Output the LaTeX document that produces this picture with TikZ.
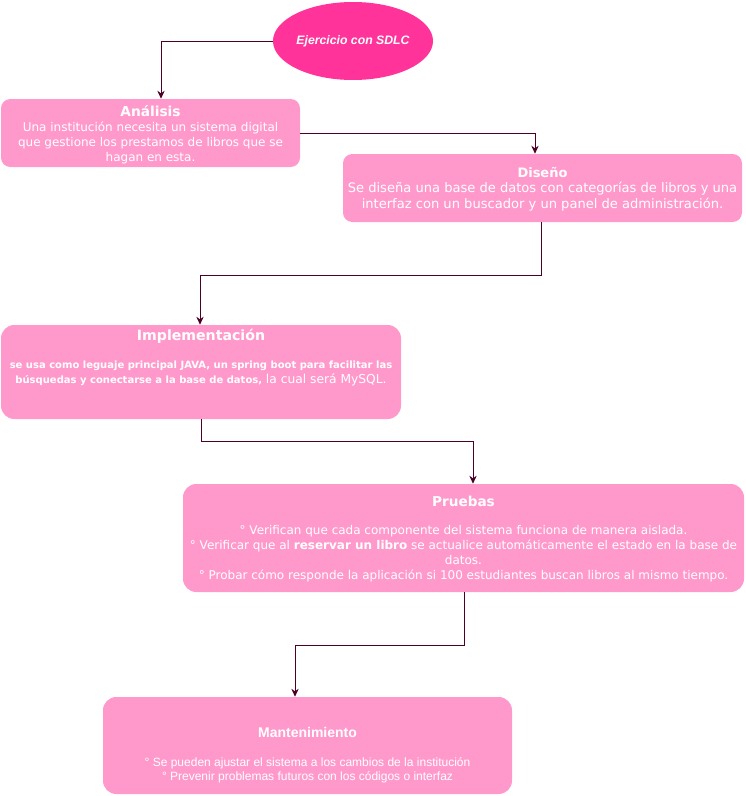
\documentclass[tikz,border=0pt]{standalone}
\usepackage{fontspec}
\setmainfont{DejaVu Sans}
\newfontfamily\arialfont{Liberation Sans}
\usetikzlibrary{arrows.meta,calc,shapes.geometric}
\definecolor{boxpink}{HTML}{FF99CC}
\definecolor{hotpink}{HTML}{FF3399}
\definecolor{linkcol}{HTML}{4D0026}
\tikzset{
  x=0.75pt, y=-0.75pt,
  stagebox/.style={fill=boxpink, draw=none, inner sep=0pt},
  stagetext/.style={text=white, align=center, inner sep=0pt, font=\fontsize{9}{11.25}\selectfont},
  link/.style={draw=linkcol, line width=0.75pt, -{Stealth[length=6pt,width=5.5pt]}},
}
\begin{document}
\begin{tikzpicture}
\useasboundingbox (0,0) rectangle (746,796);

% start ellipse
\node[ellipse, fill=hotpink, minimum width=150*0.75pt, minimum height=78*0.75pt, inner sep=0pt,
      text=white, font=\arialfont\bfseries\itshape\fontsize{9.2}{11}\selectfont] (start) at (353,41) {Ejercicio con SDLC};

% stage boxes
\node[stagebox, rounded corners=7pt, minimum width=299*0.75pt, minimum height=68*0.75pt] (ana) at (150.5,133) {};
\node[stagebox, rounded corners=7pt, minimum width=399*0.75pt, minimum height=68*0.75pt] (dis) at (542.5,188) {};
\node[stagebox, rounded corners=10pt, minimum width=400*0.75pt, minimum height=94*0.75pt] (imp) at (201,372) {};
\node[stagebox, rounded corners=10pt, minimum width=561*0.75pt, minimum height=108*0.75pt] (pru) at (463.5,538) {};
\node[stagebox, rounded corners=10pt, minimum width=409*0.75pt, minimum height=97*0.75pt] (man) at (307.5,745.5) {};

% stage texts
\node[stagetext] (anat) at (150.5,135) {{\fontsize{10.3}{11.25}\selectfont\bfseries Análisis}\\
Una institución necesita un sistema digital\\
que gestione los prestamos de libros que se\\
hagan en esta.};

\node[stagetext, font=\fontsize{9.8}{11.75}\selectfont] (dist) at (542.5,189) {{\fontsize{9.75}{11.75}\selectfont\bfseries Diseño}\\
Se diseña una base de datos con categorías de libros y una\\
interfaz con un buscador y un panel de administración.};

\node[stagetext, anchor=north] (impt) at (201,329) {{\fontsize{10.6}{14}\selectfont\bfseries Implementación}\\[10pt]
{\fontsize{7.5}{10.5}\selectfont\bfseries se usa como leguaje principal JAVA, un spring boot para facilitar las}\\
{\fontsize{7.5}{10.5}\selectfont\bfseries búsquedas y conectarse a la base de datos,} {\fontsize{9.2}{10.5}\selectfont la cual será MySQL.}};

\node[stagetext] (prut) at (463.5,539) {{\fontsize{10.2}{11.25}\selectfont\bfseries Pruebas}\\[10pt]
° Verifican que cada componente del sistema funciona de manera aislada.\\
° Verificar que al \textbf{reservar un libro} se actualice automáticamente el estado en la base de\\
datos.\\
° Probar cómo responde la aplicación si 100 estudiantes buscan libros al mismo tiempo.};

\node[stagetext, font=\arialfont\fontsize{9}{10.5}\selectfont] (mant) at (307.5,755) {{\fontsize{10.5}{11.25}\selectfont\bfseries Mantenimiento}\\[11pt]
° Se pueden ajustar el sistema a los cambios de la institución\\
° Prevenir problemas futuros con los códigos o interfaz};

% connectors
\draw[link] (start.west) -| ($(ana.north)+(10.5,0)$);
\draw[link] (ana.east) -| ($(dis.north)+(-7.5,0)$);
\draw[link] ($(dis.south)+(-1.5,0)$) -- ++(0,53) -| ($(imp.north)+(-1,0)$);
\draw[link] (imp.south) -- ++(0,22) -| ($(pru.north)+(9.5,0)$);
\draw[link] ($(pru.south)+(0.5,0)$) -- ++(0,53) -| ($(man.north)+(-12.5,0)$);
\end{tikzpicture}
\end{document}
